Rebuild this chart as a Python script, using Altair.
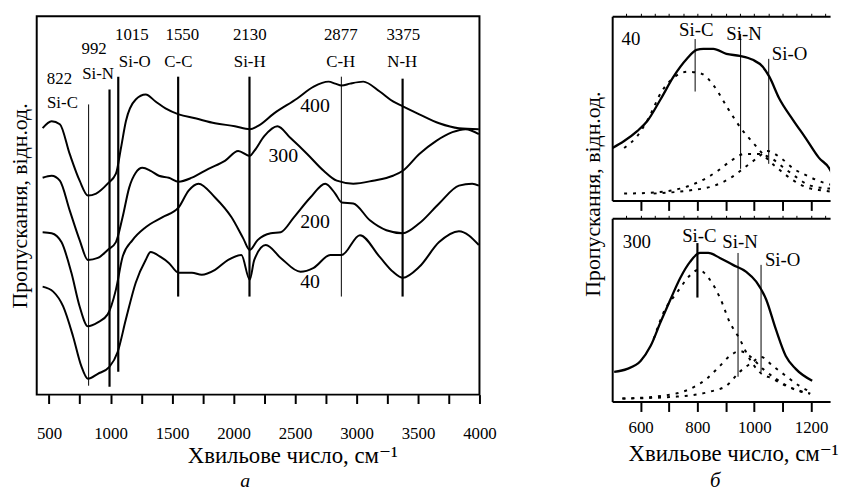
import altair as alt
import pandas as pd

FONT = "Liberation Serif, Times New Roman, DejaVu Serif, serif"

# ---------------- panel a: IR transmission spectra ----------------
s400_x = [448, 521, 588, 668, 749, 816, 883, 977, 1044, 1085, 1125, 1205, 1286, 1366, 1447, 1554, 1689, 1850,
          2011, 2132, 2196, 2330, 2518, 2652, 2773, 2827, 2880, 2948, 3055, 3189, 3297, 3377, 3511, 3672, 3833, 3995]
s400_y = [269, 276, 273, 243, 216, 201, 203, 213, 223, 249, 276, 298, 303, 296, 289, 283, 279, 274,
          271, 268, 271, 284, 299, 311, 316, 314, 312, 314, 316, 306, 296, 291, 283, 274, 269, 268]

s300_x = [448, 521, 588, 668, 749, 816, 897, 977, 1044, 1098, 1152, 1205, 1259, 1326, 1393, 1474, 1554, 1662, 1796,
          1930, 2038, 2132, 2169, 2250, 2357, 2464, 2599, 2733, 2840, 2974, 3135, 3297, 3377, 3511, 3646, 3780, 3887, 3995]
s300_y = [219, 221, 216, 186, 156, 136, 138, 146, 154, 179, 209, 224, 229, 226, 221, 219, 215, 219, 228,
          236, 246, 241, 246, 261, 271, 259, 243, 226, 216, 213, 216, 221, 226, 243, 256, 265, 268, 263]

s200_x = [448, 521, 601, 682, 749, 816, 897, 977, 1044, 1098, 1179, 1286, 1420, 1554, 1635, 1715, 1850, 1984, 2078,
          2132, 2196, 2303, 2384, 2491, 2625, 2746, 2827, 2880, 2974, 3109, 3243, 3377, 3511, 3672, 3833, 3941, 3995]
s200_y = [164, 163, 154, 123, 89, 69, 73, 81, 106, 139, 156, 169, 179, 189, 206, 213, 199, 179, 158,
          146, 156, 163, 164, 179, 199, 213, 203, 194, 193, 176, 166, 163, 173, 193, 211, 213, 211]

s40_x = [448, 534, 615, 695, 762, 816, 897, 991, 1058, 1125, 1205, 1286, 1326, 1407, 1474, 1554, 1662, 1742, 1850,
         1957, 2064, 2132, 2169, 2263, 2384, 2545, 2652, 2787, 2880, 3028, 3189, 3297, 3377, 3511, 3672, 3833, 3995]
s40_y = [109, 104, 89, 59, 29, 16, 21, 28, 43, 76, 113, 136, 144, 139, 133, 123, 123, 121, 126,
         136, 141, 116, 136, 151, 138, 124, 128, 141, 141, 161, 139, 124, 118, 129, 154, 165, 151]

# vertical marker lines (wavenumber, lower and upper ends)
thin_x = [822, 2877]
thin_lo = [9, 99]
thin_hi = [293, 321]
thick_x = [992, 1063, 1550, 2130, 3375]
thick_lo = [8, 23, 99, 99, 99]
thick_hi = [308, 321, 321, 321, 319]

num_text = ["822", "992", "1015", "1550", "2130", "2877", "3375"]
num_x = [585, 867, 1173, 1584, 2132, 2872, 3380]
num_y = [319, 349, 363, 363, 363, 363, 363]
bond_text = ["Si-C", "Si-N", "Si-O", "C-C", "Si-H", "C-H", "N-H"]
bond_x = [609, 899, 1197, 1552, 2132, 2872, 3372]
bond_y = [294, 324, 336, 336, 336, 336, 336]

curve_text = ["400", "300", "200", "40"]
curve_tx = [2663, 2405, 2663, 2623]
curve_ty = [291, 241, 174, 114]

# ---------------- panel b: deconvolution, sample 40 ----------------
t_solid_x = [501, 542, 588, 623, 670, 716, 763, 797, 821, 856, 902, 949, 995, 1030, 1053, 1088, 1135, 1181, 1228, 1263, 1286]
t_solid_y = [53, 60, 70, 80, 102, 125, 143, 152, 153, 153, 148, 146, 142, 135, 125, 103, 82, 63, 43, 33, 20]
t_sic_x = [542, 588, 628, 674, 721, 767, 814, 860, 907, 953, 1000, 1046, 1093, 1139, 1186, 1244, 1290]
t_sic_y = [53, 65, 83, 110, 125, 130, 128, 115, 93, 73, 57, 42, 30, 20, 13, 10, 8]
t_sin_x = [542, 646, 739, 814, 872, 918, 965, 1011, 1058, 1104, 1151, 1197, 1267]
t_sin_y = [7, 8, 12, 20, 30, 40, 47, 47, 43, 33, 23, 15, 12]
t_sio_x = [646, 767, 860, 918, 965, 1011, 1046, 1093, 1139, 1186, 1244, 1290]
t_sio_y = [7, 10, 15, 23, 33, 43, 50, 43, 32, 25, 18, 15]
t_line_x = [792, 952, 1051]
t_line_lo = [110, 32, 37]
t_line_hi = [163, 168, 143]
t_lab_text = ["40", "Si-C", "Si-N", "Si-O"]
t_lab_x = [566, 796, 964, 1124]
t_lab_y = [163, 172, 168, 148]

# ---------------- panel b: deconvolution, sample 300 ----------------
b_solid_x = [507, 553, 600, 635, 670, 705, 740, 774, 809, 838, 879, 925, 972, 1007, 1042, 1076, 1111, 1146, 1204]
b_solid_y = [30, 33, 41, 56, 80, 103, 125, 141, 150, 150, 145, 138, 131, 121, 103, 73, 46, 33, 21]
b_sic_x = [646, 681, 728, 776, 803, 844, 879, 914, 949, 984, 1018, 1065, 1111, 1158, 1197]
b_sic_y = [63, 90, 110, 128, 133, 123, 105, 80, 63, 43, 30, 23, 16, 11, 8]
b_sin_x = [536, 681, 776, 833, 879, 914, 949, 984, 1030, 1076, 1135, 1197]
b_sin_y = [3, 6, 13, 23, 36, 46, 51, 46, 33, 23, 13, 8]
b_sio_x = [536, 728, 844, 902, 949, 995, 1024, 1065, 1111, 1158, 1197]
b_sio_y = [3, 5, 10, 16, 30, 40, 45, 36, 26, 16, 10]
b_thick_x = [800]
b_thick_lo = [105]
b_thick_hi = [160]
b_thin_x = [943, 1024]
b_thin_lo = [25, 30]
b_thin_hi = [150, 138]
b_lab_text = ["300", "Si-C", "Si-N", "Si-O"]
b_lab_x = [587, 807, 950, 1100]
b_lab_y = [161, 167, 161, 143]


def curves(pairs):
    frames = []
    for name, xs, ys in pairs:
        frames.append(pd.DataFrame({"wn": xs, "t": ys, "s": name}))
    return pd.concat(frames, ignore_index=True)


def rules(xs, lo, hi):
    return pd.DataFrame({"wn": xs, "lo": lo, "hi": hi})


def labels(texts, xs, ys):
    return pd.DataFrame({"wn": xs, "t": ys, "txt": texts})


AX = dict(labelFont=FONT, labelColor="black", titleFont=FONT, titleColor="black",
          titleFontWeight="normal", tickColor="black", domainColor="black", grid=False)

# ---------------- left panel ----------------
xL_scale = alt.Scale(domain=[400, 4000], nice=False, zero=False)
yL_scale = alt.Scale(domain=[0, 382], nice=False, zero=False)
xL_axis = alt.Axis(values=list(range(500, 4001, 250)), format="d",
                   labelExpr="datum.value % 500 == 0 ? datum.label : ''",
                   tickSize=9, tickWidth=2, domain=False, labelFontSize=17, labelPadding=22,
                   labelFlush=False, labelOverlap=False,
                   title="Хвильове число, см⁻¹", titleFontSize=23, titlePadding=4,
                   titleX=258, titleAlign="center", **AX)
yL_axis = alt.Axis(ticks=False, labels=False, domain=False,
                   title="Пропускання, відн.од.", titleFontSize=22, titlePadding=5, **AX)

left_lines = alt.Chart(curves([("400", s400_x, s400_y), ("300", s300_x, s300_y),
                               ("200", s200_x, s200_y), ("40", s40_x, s40_y)])).mark_line(
    color="black", strokeWidth=2, interpolate="monotone").encode(
    x=alt.X("wn:Q", scale=xL_scale, axis=xL_axis),
    y=alt.Y("t:Q", scale=yL_scale, axis=yL_axis),
    detail="s:N")

left_thin = alt.Chart(rules(thin_x, thin_lo, thin_hi)).mark_rule(color="black", strokeWidth=1).encode(
    x=alt.X("wn:Q", scale=xL_scale, axis=None), y=alt.Y("lo:Q", scale=yL_scale, axis=None), y2="hi:Q")
left_thick = alt.Chart(rules(thick_x, thick_lo, thick_hi)).mark_rule(color="black", strokeWidth=2.2).encode(
    x=alt.X("wn:Q", scale=xL_scale, axis=None), y=alt.Y("lo:Q", scale=yL_scale, axis=None), y2="hi:Q")


def text_layer(df, xs, ys, size):
    return alt.Chart(df).mark_text(font=FONT, fontSize=size, color="black", baseline="middle").encode(
        x=alt.X("wn:Q", scale=xs, axis=None), y=alt.Y("t:Q", scale=ys, axis=None), text="txt:N")


left = alt.layer(
    left_lines, left_thin, left_thick,
    text_layer(labels(num_text, num_x, num_y), xL_scale, yL_scale, 17),
    text_layer(labels(bond_text, bond_x, bond_y), xL_scale, yL_scale, 17),
    text_layer(labels(curve_text, curve_tx, curve_ty), xL_scale, yL_scale, 20),
).resolve_axis(x="independent", y="independent").properties(
    width=447, height=382,
    view=alt.ViewBackground(stroke="black", strokeWidth=2),
    title=alt.TitleParams("а", orient="bottom", font=FONT, fontSize=20, fontStyle="italic",
                          fontWeight="normal", color="black", offset=3, dx=-13),
)

# ---------------- right panels ----------------
xR_scale = alt.Scale(domain=[500, 1267], nice=False, zero=False)


def right_panel(solid, comps, thick, thin, labs, ymax, bottom_labels, ytitle, title):
    ys = alt.Scale(domain=[0, ymax], nice=False, zero=False)
    if bottom_labels:
        xb = alt.Axis(values=list(range(600, 1201, 100)), format="d",
                      labelExpr="datum.value % 200 == 0 ? datum.label : ''",
                      tickSize=10, tickWidth=2, domain=True, domainWidth=2, labelFontSize=17,
                      labelPadding=8, labelFlush=False, labelOverlap=False,
                      title="Хвильове число, см⁻¹", titleFontSize=23, titlePadding=8,
                      titleX=122, titleAlign="center", **AX)
    else:
        xb = alt.Axis(values=list(range(600, 1201, 100)), tickSize=10, tickWidth=2, labels=False,
                      domain=True, domainWidth=2, title=None, **AX)
    if ytitle:
        ya = alt.Axis(ticks=False, labels=False, domain=True, domainWidth=2,
                      title="Пропускання, відн.од.", titleFontSize=22, titleX=-8, titleY=179,
                      titleAlign="center", **AX)
    else:
        ya = alt.Axis(ticks=False, labels=False, domain=True, domainWidth=2, title=None, **AX)
    xt = alt.Axis(orient="top", values=list(range(550, 1251, 50)), tickSize=3, tickWidth=1,
                  labels=False, domain=True, domainWidth=2, title=None, **AX)

    solid_l = alt.Chart(curves([("sum",) + solid])).mark_line(
        color="black", strokeWidth=2.3, interpolate="monotone", clip=True).encode(
        x=alt.X("wn:Q", scale=xR_scale, axis=xb), y=alt.Y("t:Q", scale=ys, axis=ya))
    comp_l = alt.Chart(curves(comps)).mark_line(
        color="black", strokeWidth=2, strokeDash=[3, 6], interpolate="monotone", clip=True).encode(
        x=alt.X("wn:Q", scale=xR_scale, axis=None), y=alt.Y("t:Q", scale=ys, axis=None), detail="s:N")
    thick_l = alt.Chart(rules(*thick)).mark_rule(color="black", strokeWidth=2.2).encode(
        x=alt.X("wn:Q", scale=xR_scale, axis=None), y=alt.Y("lo:Q", scale=ys, axis=None), y2="hi:Q")
    thin_l = alt.Chart(rules(*thin)).mark_rule(color="black", strokeWidth=1).encode(
        x=alt.X("wn:Q", scale=xR_scale, axis=None), y=alt.Y("lo:Q", scale=ys, axis=None), y2="hi:Q")
    lab_l = alt.Chart(labels(*labs)).mark_text(font=FONT, fontSize=19, color="black", baseline="middle").encode(
        x=alt.X("wn:Q", scale=xR_scale, axis=xt), y=alt.Y("t:Q", scale=ys, axis=None), text="txt:N")
    props = dict(width=220, height=ymax, view=alt.ViewBackground(stroke="transparent"))
    if title:
        props["title"] = alt.TitleParams(title, orient="bottom", font=FONT, fontSize=21, fontStyle="italic",
                                         fontWeight="normal", color="black", offset=4, dx=-6)
    return alt.layer(solid_l, comp_l, thick_l, thin_l, lab_l).resolve_axis(
        x="independent", y="independent").properties(**props)


top = right_panel(
    (t_solid_x, t_solid_y),
    [("sic", t_sic_x, t_sic_y), ("sin", t_sin_x, t_sin_y), ("sio", t_sio_x, t_sio_y)],
    ([], [], []), (t_line_x, t_line_lo, t_line_hi),
    (t_lab_text, t_lab_x, t_lab_y), 186, False, True, None)
bottom = right_panel(
    (b_solid_x, b_solid_y),
    [("sic", b_sic_x, b_sic_y), ("sin", b_sin_x, b_sin_y), ("sio", b_sio_x, b_sio_y)],
    (b_thick_x, b_thick_lo, b_thick_hi), (b_thin_x, b_thin_lo, b_thin_hi),
    (b_lab_text, b_lab_x, b_lab_y), 185, True, False, "б")

right = alt.vconcat(top, bottom, spacing=18, bounds="flush")

chart = alt.hconcat(left, right, spacing=134, bounds="flush").properties(
    padding={"left": 0, "top": 2, "right": 0, "bottom": 0},
    background="white",
)

chart.save("out.html", embed_options={"renderer": "svg", "actions": False})
